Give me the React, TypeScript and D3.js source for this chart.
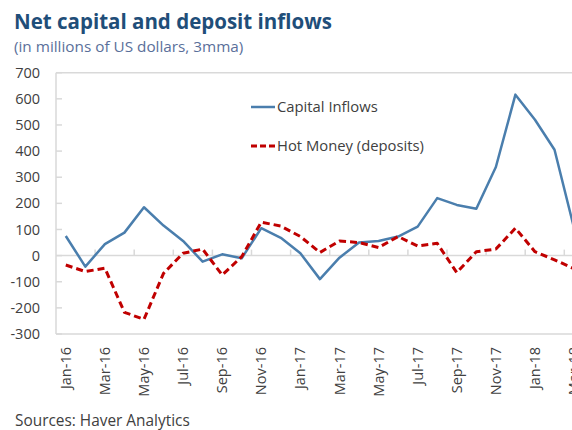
import React from "react";
import * as d3 from "d3";

const months = [
  "Jan-16","Feb-16","Mar-16","Apr-16","May-16","Jun-16","Jul-16","Aug-16","Sep-16","Oct-16","Nov-16","Dec-16",
  "Jan-17","Feb-17","Mar-17","Apr-17","May-17","Jun-17","Jul-17","Aug-17","Sep-17","Oct-17","Nov-17","Dec-17",
  "Jan-18","Feb-18","Mar-18",
];
const capitalInflows = [75,-42,44,88,185,115,56,-23,5,-10,105,68,9,-90,-8,50,56,73,111,220,194,179,339,616,520,405,105];
const hotMoney = [-36,-61,-48,-217,-244,-68,9,25,-74,-4,128,113,73,12,56,50,31,73,37,47,-65,15,25,105,15,-16,-50];
const yTicks = [-300,-200,-100,0,100,200,300,400,500,600,700];
const seriesNames = ["Capital Inflows", "Hot Money (deposits)"];

const W = 572, H = 430;
const FONT = "'Open Sans', sans-serif";
const BLUE = "#4A7EAD";
const RED = "#C00000";
const TXT = "#404040";

export default function App() {
  const left = 56, top = 72.7, bottom = 334;
  const step = 19.55;
  const x = d3.scaleBand<string>().domain(months).range([left, left + step * months.length]).padding(0);
  const y = d3.scaleLinear().domain([-300, 700]).range([bottom, top]);
  const cx = (m: string) => (x(m) as number) + x.bandwidth() / 2;
  const right = left + step * months.length;

  const line = d3.line<number>().x((_, i) => cx(months[i])).y((v) => y(v));

  return (
    <svg width={W} height={H} style={{ position: "absolute", left: 0, top: 0, background: "#fff" }} fontFamily={FONT}>
      <text x={14} y={29} fontSize={20.5} fontWeight={700} fill="#1F4E79">Net capital and deposit inflows</text>
      <text x={14} y={52} fontSize={15.3} fill="#5A6F9A">(in millions of US dollars, 3mma)</text>

      {/* plot frame */}
      <line x1={left} x2={right} y1={top} y2={top} stroke="#D9D9D9" strokeWidth={1.5} />
      <line x1={left} x2={right} y1={bottom} y2={bottom} stroke="#D9D9D9" strokeWidth={1.5} />
      <line x1={left} x2={left} y1={top} y2={bottom} stroke="#D9D9D9" strokeWidth={1.5} />
      {yTicks.map((t) => (
        <g key={t}>
          <line x1={left} x2={left + 6} y1={y(t)} y2={y(t)} stroke="#D9D9D9" strokeWidth={1.5} />
          <text x={40} y={y(t)} dy="0.35em" textAnchor="end" fontSize={14.5} fill={TXT}>{t}</text>
        </g>
      ))}
      {/* zero line with ticks */}
      <line x1={left} x2={right} y1={y(0)} y2={y(0)} stroke="#D9D9D9" strokeWidth={1.5} />
      {months.map((m, i) => i % 2 === 0 && i > 0 ? (
        <line key={m} x1={x(m)} x2={x(m)} y1={y(0)} y2={y(0) - 6} stroke="#D9D9D9" strokeWidth={1.5} />
      ) : null)}

      {months.map((m, i) => i % 2 === 0 ? (
        <text key={m} transform={`translate(${cx(m)},347) rotate(-90)`} textAnchor="end" dy="0.35em" fontSize={14.5} fill={TXT}>{m}</text>
      ) : null)}

      <path d={line(capitalInflows) || ""} fill="none" stroke={BLUE} strokeWidth={2.5} strokeLinejoin="round" />
      <path d={line(hotMoney) || ""} fill="none" stroke={RED} strokeWidth={3} strokeDasharray="7,4" strokeLinejoin="round" />

      {/* legend */}
      <line x1={251} x2={275} y1={107} y2={107} stroke={BLUE} strokeWidth={2.5} />
      <text x={277} y={107} dy="0.35em" fontSize={14.8} fill={TXT}>{seriesNames[0]}</text>
      <line x1={251} x2={275} y1={146} y2={146} stroke={RED} strokeWidth={3} strokeDasharray="6,3" />
      <text x={277} y={146} dy="0.35em" fontSize={14.8} fill={TXT}>{seriesNames[1]}</text>

      <text x={15} y={421} dy="0.35em" fontSize={15.4} fill={TXT}>Sources: Haver Analytics</text>
    </svg>
  );
}
